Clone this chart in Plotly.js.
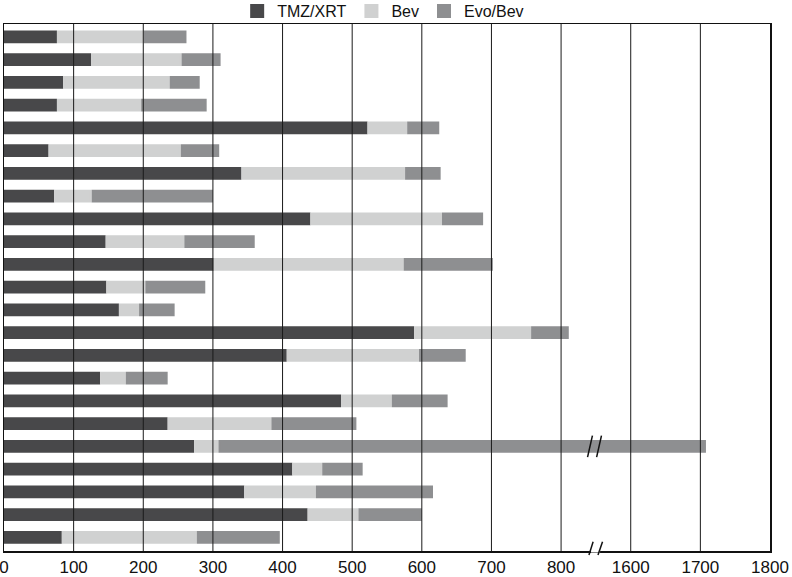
<!DOCTYPE html>
<html><head><meta charset="utf-8">
<script src="https://cdn.plot.ly/plotly-3.0.1.min.js"></script>
<style>html,body{margin:0;padding:0;background:#fff}</style>
</head><body><div id="chart" style="width:792px;height:577px"></div>
<script>
// Rows from top (1) to bottom (23)
const rows = [1,2,3,4,5,6,7,8,9,10,11,12,13,14,15,16,17,18,19,20,21,22,23];
// Duration of each treatment segment (days)
const tmzXrt = [76,125,85,76,522,64,341,72,440,146,301,147,165,589,406,138,484,235,273,414,345,436,83];
const bev    = [125,130,153,121,57,190,235,54,189,113,273,56,29,168,190,37,73,149,35,43,103,73,194];
const evoBev = [61,56,43,94,46,55,51,174,59,101,128,86,51,54,67,60,80,122,1400,58,168,91,119];
const seriesNames = ['TMZ/XRT','Bev','Evo/Bev'];
const seriesColors = ['#48484a','#d0d1d1','#8e8f91'];
const tickValues = [0,100,200,300,400,500,600,700,800,1600,1700,1800];

// Broken axis: values between 850 and 1550 are hidden
const BREAK_AT = 850, HIDDEN = 700;
const f = v => (v <= BREAK_AT ? v : v - HIDDEN);

const series = [tmzXrt, bev, evoBev];
const cum = rows.map(() => 0);
const traces = series.map((vals, s) => {
  const base = [], len = [];
  vals.forEach((v, i) => {
    const a = cum[i], b = cum[i] + v;
    base.push(f(a) + 1.4); len.push(f(b) - f(a) - 2.8);
    cum[i] = b;
  });
  return {
    type: 'bar', orientation: 'h', name: seriesNames[s],
    y: rows, x: len, base: base, width: 0.47,
    marker: {color: seriesColors[s], line:{color: seriesColors[s], width: 2}}, hoverinfo: 'skip'
  };
});

const shapes = [];
// vertical grid lines above bars
tickValues.slice(1, -1).forEach(t => {
  shapes.push({type:'line', xref:'x', yref:'paper', x0:f(t), x1:f(t), y0:0, y1:1,
    line:{color:'#1a1a1a', width:1}, layer:'above'});
});
// axis break marks
shapes.push({type:'line', xref:'x', yref:'paper', x0:BREAK_AT-7, x1:BREAK_AT+6, y0:0, y1:0,
  line:{color:'#ffffff', width:3}, layer:'above'});
[[-10,-4],[3,9.5]].forEach(([a,b]) => {
  shapes.push({type:'line', xref:'x', yref:'paper', x0:BREAK_AT+a, x1:BREAK_AT+b, y0:-0.0076, y1:0.0176,
    line:{color:'#111', width:1.5}, layer:'above'});
});
// break marks on the bar that crosses the break
rows.forEach((r, i) => {
  if (cum[i] > BREAK_AT) {
    [[-12,-5],[1,8]].forEach(([a,b]) => {
      shapes.push({type:'line', xref:'x', yref:'y', x0:BREAK_AT+a, x1:BREAK_AT+b, y0:r+0.47, y1:r-0.47,
        line:{color:'#111', width:1.5}, layer:'above'});
    });
  }
});

const font = {family:'"Liberation Sans", Arial, Helvetica, sans-serif', color:'#111'};
const layout = {
  width:792, height:577,
  margin:{l:4, r:22, t:24, b:26, autoexpand:false},
  paper_bgcolor:'#fff', plot_bgcolor:'#fff',
  barmode:'overlay', showlegend:true,
  font: font,
  legend:{orientation:'h', x:0.495, xanchor:'center', y:1.0247, yanchor:'middle',
    font:Object.assign({size:16}, font), bgcolor:'rgba(0,0,0,0)', traceorder:'normal'},
  xaxis:{range:[0, f(1800)], tickvals:tickValues.map(f), ticktext:tickValues.map(String),
    showgrid:false, zeroline:false, showline:true, mirror:true, linecolor:'#111', linewidth:1.5,
    ticks:'', tickfont:Object.assign({size:17}, font), automargin:false, layer:'above traces',
    ticklabeloverflow:'allow', fixedrange:true},
  yaxis:{range:[23.6, 0.43], showticklabels:false, showgrid:false, zeroline:false,
    showline:true, mirror:true, linecolor:'#111', linewidth:1.5, ticks:'', automargin:false,
    layer:'above traces', fixedrange:true},
  shapes: shapes
};
Plotly.newPlot('chart', traces, layout, {displayModeBar:false, staticPlot:true});
</script>
</body></html>
